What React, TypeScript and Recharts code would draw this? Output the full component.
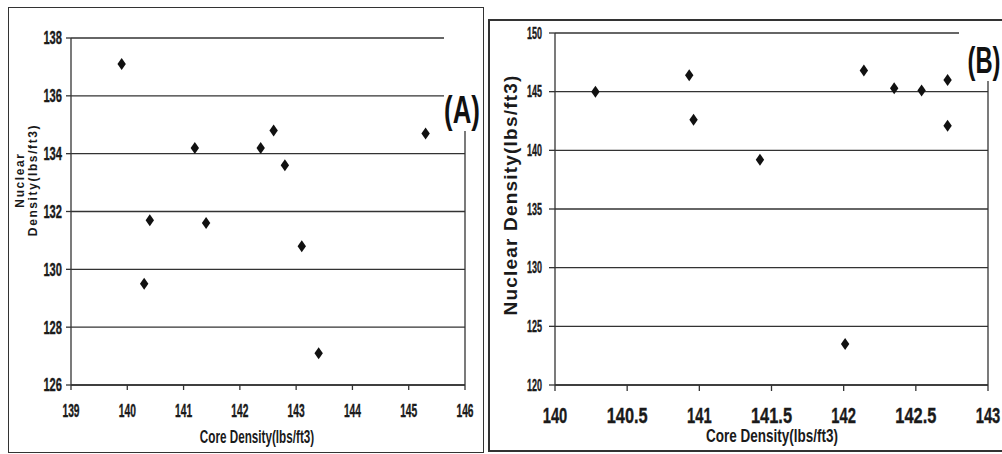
import {
  ScatterChart,
  Scatter,
  XAxis,
  YAxis,
  CartesianGrid,
  ReferenceLine,
} from 'recharts'

// Panel A: core vs nuclear density
const aCore = [139.9, 140.3, 140.4, 141.2, 141.4, 142.37, 142.6, 142.8, 143.1, 143.4, 145.3]
const aNuclear = [137.1, 129.5, 131.7, 134.2, 131.6, 134.2, 134.8, 133.6, 130.8, 127.1, 134.7]
const aXTicks = [139, 140, 141, 142, 143, 144, 145, 146]
const aYTicks = [126, 128, 130, 132, 134, 136, 138]

// Panel B
const bCore = [140.28, 140.93, 140.96, 141.42, 142.01, 142.14, 142.35, 142.54, 142.72, 142.72]
const bNuclear = [145.0, 146.4, 142.6, 139.2, 123.5, 146.8, 145.3, 145.1, 146.0, 142.1]
const bXTicks = [140, 140.5, 141, 141.5, 142, 142.5, 143]
const bYTicks = [120, 125, 130, 135, 140, 145, 150]

const SANS = '"Liberation Sans", Arial, sans-serif'
const INK = '#1a1a1a'
const LINE = '#333'

const aData = aCore.map((x, i) => ({ x, y: aNuclear[i] }))
const bData = bCore.map((x, i) => ({ x, y: bNuclear[i] }))

function Diamond(props: any) {
  const { cx, cy } = props
  if (cx == null || cy == null) return null
  return (
    <polygon
      points={`${cx},${cy - 6} ${cx + 4.2},${cy} ${cx},${cy + 6} ${cx - 4.2},${cy}`}
      fill="#111"
    />
  )
}

// the scan uses a tall, condensed bold face: squeeze Liberation Sans to a fixed glyph width
const narrowTick = (fs: number, charW: number, vertical = false) => (props: any) => {
  const { x, y, payload } = props
  const label = String(payload.value)
  return (
    <text
      x={x}
      y={y}
      dy={vertical ? fs * 0.36 : fs * 0.72}
      textAnchor={vertical ? 'end' : 'middle'}
      textLength={label.length * charW}
      lengthAdjust="spacingAndGlyphs"
      fill={INK}
      stroke={INK}
      strokeWidth={0.35}
      fontSize={fs}
      fontFamily={SANS}
      fontWeight={700}
    >
      {label}
    </text>
  )
}

const narrowText = (sx: number) => ({
  position: 'absolute' as const,
  whiteSpace: 'nowrap' as const,
  fontFamily: SANS,
  fontWeight: 700,
  color: INK,
  lineHeight: 1,
  transformOrigin: 'center',
  transform: `translate(-50%, -50%) scaleX(${sx})`,
})

export default function App() {
  return (
    <div style={{ position: 'absolute', left: 0, top: 0, width: 1002, height: 454, background: '#fff', overflow: 'hidden' }}>
      {/* panel frames */}
      <div style={{ position: 'absolute', left: 8, top: 7, width: 476, height: 446, border: `1.5px solid ${LINE}`, boxSizing: 'border-box' }} />
      <div style={{ position: 'absolute', left: 488, top: 19, width: 530, height: 433, border: `2px solid ${LINE}`, boxSizing: 'border-box' }} />

      {/* (A) */}
      <div style={{ position: 'absolute', left: 0, top: 0 }}>
        <ScatterChart width={490} height={454} margin={{ top: 38, right: 25, bottom: 9, left: 0 }}>
          <CartesianGrid vertical={false} stroke={LINE} strokeWidth={1.3} strokeOpacity={1} />
          <XAxis
            type="number"
            dataKey="x"
            domain={[139, 146]}
            ticks={aXTicks}
            stroke={LINE}
            strokeWidth={1.3}
            tickSize={5}
            tickMargin={14}
            height={60}
            tick={narrowTick(18, 5.7)}
          />
          <YAxis
            type="number"
            dataKey="y"
            domain={[126, 138]}
            ticks={aYTicks}
            stroke={LINE}
            strokeWidth={1.3}
            width={71}
            tickSize={5}
            tickMargin={4}
            tick={narrowTick(18, 6.2, true)}
          />
          <ReferenceLine x={146} stroke={LINE} strokeWidth={1.3} />
          <Scatter data={aData} shape={<Diamond />} isAnimationActive={false} />
        </ScatterChart>
      </div>

      {/* (B) */}
      <div style={{ position: 'absolute', left: 490, top: 0 }}>
        <ScatterChart width={512} height={454} margin={{ top: 33, right: 14, bottom: 9, left: 0 }}>
          <CartesianGrid vertical={false} stroke={LINE} strokeWidth={1.3} strokeOpacity={1} />
          <XAxis
            type="number"
            dataKey="x"
            domain={[140, 143]}
            ticks={bXTicks}
            stroke={LINE}
            strokeWidth={1.3}
            tickSize={6}
            tickMargin={16}
            height={60}
            tick={narrowTick(22, 8.2)}
          />
          <YAxis
            type="number"
            dataKey="y"
            domain={[120, 150]}
            ticks={bYTicks}
            stroke={LINE}
            strokeWidth={1.3}
            width={65}
            tickSize={6}
            tickMargin={7}
            tick={narrowTick(16, 5, true)}
          />
          <ReferenceLine x={143} stroke={LINE} strokeWidth={1.3} />
          <Scatter data={bData} shape={<Diamond />} isAnimationActive={false} />
        </ScatterChart>
      </div>

      {/* axis titles */}
      <div style={{ ...narrowText(0.65), left: 257, top: 437, fontSize: 18 }}>Core Density(lbs/ft3)</div>
      <div style={{ ...narrowText(0.75), left: 772, top: 436, fontSize: 18 }}>Core Density(lbs/ft3)</div>
      <div
        style={{
          position: 'absolute', left: 27, top: 180, transform: 'translate(-50%, -50%) rotate(-90deg)',
          whiteSpace: 'nowrap', textAlign: 'center', fontFamily: SANS, fontWeight: 700, fontSize: 12,
          letterSpacing: 1.6, lineHeight: '13px', color: INK,
        }}
      >
        Nuclear
        <br />
        Density(lbs/ft3)
      </div>
      <div
        style={{
          position: 'absolute', left: 511, top: 195, transform: 'translate(-50%, -50%) rotate(-90deg)',
          whiteSpace: 'nowrap', fontFamily: SANS, fontWeight: 700, fontSize: 19, letterSpacing: 1.2, color: INK,
        }}
      >
        Nuclear Density(lbs/ft3)
      </div>

      {/* panel tags, masking the grid ends as in the original */}
      <div style={{ position: 'absolute', left: 444, top: 28, width: 38, height: 103, background: '#fff' }} />
      <div style={{ ...narrowText(0.68), left: 462, top: 110, fontSize: 38, color: '#111' }}>(A)</div>
      <div style={{ position: 'absolute', left: 959, top: 24, width: 43, height: 57, background: '#fff' }} />
      <div style={{ ...narrowText(0.66), left: 984, top: 61, fontSize: 36, color: '#111' }}>(B)</div>
    </div>
  )
}
